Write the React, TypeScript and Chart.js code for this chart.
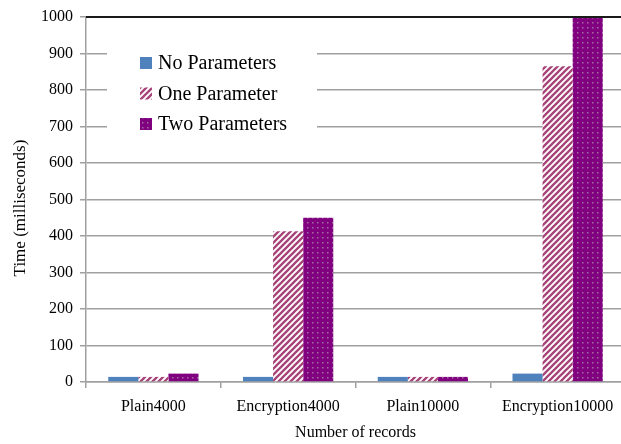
import React, { useEffect, useRef } from "react";
import { Chart, registerables } from "chart.js";

Chart.register(...registerables);

const categories = ["Plain4000", "Encryption4000", "Plain10000", "Encryption10000"];
const seriesNames = ["No Parameters", "One Parameter", "Two Parameters"];
const noParameters = [14, 14, 14, 23];
const oneParameter = [14, 413, 14, 865];
const twoParameters = [23, 450, 14, 1000];
const yMin = 0;
const yMax = 1000;
const yStep = 100;
const xTitle = "Number of records";
const yTitle = "Time (milliseconds)";

const FONT = '"Liberation Serif", "Times New Roman", serif';

function makeStripe(): CanvasPattern | string {
  const c = document.createElement("canvas");
  c.width = 6;
  c.height = 6;
  const g = c.getContext("2d");
  if (!g) return "#A64378";
  g.fillStyle = "#ffffff";
  g.fillRect(0, 0, 6, 6);
  g.strokeStyle = "#A84379";
  g.lineWidth = 2.3;
  g.beginPath();
  g.moveTo(-1, 7);
  g.lineTo(7, -1);
  g.moveTo(-1, 1);
  g.lineTo(1, -1);
  g.moveTo(5, 7);
  g.lineTo(7, 5);
  g.stroke();
  return g.createPattern(c, "repeat") || "#A64378";
}

function makeDots(): CanvasPattern | string {
  const c = document.createElement("canvas");
  c.width = 5;
  c.height = 5;
  const g = c.getContext("2d");
  if (!g) return "#800080";
  g.fillStyle = "#800080";
  g.fillRect(0, 0, 5, 5);
  g.fillStyle = "#A070A0";
  g.fillRect(2, 2, 1.5, 1.5);
  return g.createPattern(c, "repeat") || "#800080";
}

export default function App() {
  const ref = useRef<HTMLCanvasElement | null>(null);

  useEffect(() => {
    if (!ref.current) return;
    const colors = ["#4F81BD", makeStripe(), makeDots()];
    const values = [noParameters, oneParameter, twoParameters];

    const overlay = {
      id: "overlay",
      afterDraw(chart: any) {
        const ctx = chart.ctx as CanvasRenderingContext2D;
        const area = chart.chartArea;
        ctx.save();
        // top border line
        ctx.strokeStyle = "#1a1a1a";
        ctx.lineWidth = 2;
        ctx.beginPath();
        ctx.moveTo(area.left, area.top);
        ctx.lineTo(area.right, area.top);
        ctx.stroke();
        // legend box
        const lx = area.left + 21;
        ctx.fillStyle = "#ffffff";
        ctx.fillRect(lx, 32, 210, 116);
        ctx.font = `20px ${FONT}`;
        ctx.textBaseline = "middle";
        ctx.textAlign = "left";
        seriesNames.forEach((name, i) => {
          const y = 63 + i * 30.5;
          ctx.fillStyle = colors[i] as any;
          ctx.fillRect(lx + 33, y - 6, 12, 12);
          ctx.fillStyle = "#000";
          ctx.fillText(name, lx + 51, y + 1);
        });
        // y axis title
        ctx.translate(20.5, 208);
        ctx.rotate(-Math.PI / 2);
        ctx.textAlign = "center";
        ctx.font = `17px ${FONT}`;
        ctx.fillStyle = "#000";
        ctx.fillText(yTitle, 0, 0);
        ctx.restore();
      },
    };

    const chart = new Chart(ref.current, {
      type: "bar",
      data: {
        labels: categories,
        datasets: seriesNames.map((name, i) => ({
          label: name,
          data: values[i],
          backgroundColor: colors[i] as any,
          borderWidth: 0,
          categoryPercentage: 0.67,
          barPercentage: 1,
        })),
      },
      options: {
        responsive: false,
        animation: false,
        layout: { padding: { left: 0, right: 15, top: 17, bottom: 0 } },
        plugins: { legend: { display: false }, tooltip: { enabled: false } },
        scales: {
          x: {
            grid: {
              display: true,
              drawOnChartArea: false,
              drawTicks: true,
              tickLength: 6,
              color: "#A0A0A0",
              lineWidth: 1.5,
              offset: true,
            },
            border: { display: true, color: "#A0A0A0", width: 1.5 },
            ticks: {
              font: { family: FONT, size: 16 },
              color: "#000",
              padding: 9,
              maxRotation: 0,
              autoSkip: false,
            },
            title: {
              display: true,
              text: xTitle,
              font: { family: FONT, size: 16 },
              color: "#000",
              padding: { top: 0, bottom: 2 },
            },
            afterFit: (s: any) => {
              s.height = 62;
            },
          },
          y: {
            min: yMin,
            max: yMax,
            ticks: {
              stepSize: yStep,
              font: { family: FONT, size: 16 },
              color: "#000",
              padding: 7,
              callback: (v: any) => String(v),
            },
            grid: {
              color: "#A0A0A0",
              lineWidth: 1.5,
              tickLength: 6,
              drawTicks: true,
            },
            border: { display: true, color: "#A0A0A0", width: 1.5 },
            afterFit: (s: any) => {
              s.width = 86;
            },
          },
        },
      },
      plugins: [overlay],
    });
    return () => chart.destroy();
  }, []);

  return (
    <div
      style={{
        position: "fixed",
        left: 0,
        top: 0,
        width: 621,
        height: 444,
        overflow: "hidden",
        background: "#fff",
      }}
    >
      <canvas ref={ref} width={640} height={444} style={{ display: "block" }} />
    </div>
  );
}
